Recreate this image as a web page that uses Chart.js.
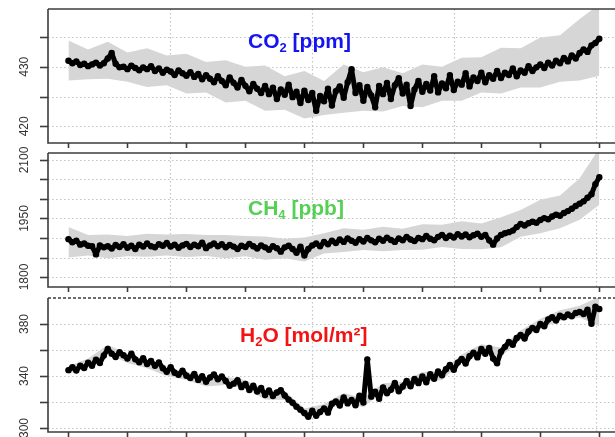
<!DOCTYPE html>
<html>
<head>
<meta charset="utf-8">
<script src="https://cdn.jsdelivr.net/npm/chart.js@4"></script>
<style>
  html, body { margin: 0; padding: 0; background: #fff; }
  #wrap { position: relative; width: 615px; height: 437px; overflow: hidden; }
  #wrap canvas { position: absolute; left: 0; top: 0; }
  .ttl { position: absolute; font: bold 21px "Liberation Sans", Arial, sans-serif; line-height: 21px; white-space: nowrap; }
  .ttl sub { font-size: 13px; vertical-align: -4px; line-height: 0; }
</style>
</head>
<body>
<div id="wrap">
  <canvas id="cCO2" width="640" height="460"></canvas>
  <canvas id="cCH4" width="640" height="460"></canvas>
  <canvas id="cH2O" width="640" height="460"></canvas>
  <div class="ttl" style="left:248px;top:30px;color:#1414f2;">CO<sub>2</sub> [ppm]</div>
  <div class="ttl" style="left:248px;top:197px;color:#55d055;">CH<sub>4</sub> [ppb]</div>
  <div class="ttl" style="left:240px;top:324px;color:#f21414;">H<sub>2</sub>O [mol/m²]</div>
</div>
<script>
// Sample index runs 0..135 along the shared time axis.
const xTicks = [0, 15, 30, 45, 60, 75, 90, 105, 120, 135];
const xGridLines = [25.9, 62.0, 98.1, 134.2];
const bandIdx = [0, 5, 10, 15, 20, 25, 30, 35, 40, 45, 50, 55, 60, 65, 70, 75, 80, 85, 90, 95, 100, 105, 110, 115, 120, 125, 130, 135];

// CO2 column [ppm]
const co2Values = [
  431.0, 430.6, 430.9, 430.3, 430.5, 430.1, 430.4, 430.7, 430.2, 430.6,
  431.4, 432.3, 430.5, 429.9, 430.0, 429.6, 430.2, 429.8, 429.4, 429.9,
  429.6, 430.1, 429.3, 429.7, 429.0, 429.5, 429.2, 428.6, 429.4, 428.9,
  428.5, 429.1, 428.3, 428.8, 427.9, 428.6, 428.0, 427.4, 428.4, 427.6,
  426.9, 428.2, 427.3, 426.5, 427.8, 426.8, 425.9, 427.1, 426.3, 425.6,
  426.8, 425.4, 426.5, 424.6, 426.2, 425.3, 427.0, 424.9, 425.8, 423.9,
  426.0, 424.4, 425.6, 422.6, 425.1, 424.2, 426.3, 423.5, 425.9, 426.7,
  424.8, 427.4, 429.6, 425.6, 426.9, 424.3, 426.6, 425.2, 423.2, 426.8,
  425.4, 427.3, 424.6, 426.9, 428.1, 425.5, 427.0, 423.4, 426.2, 427.6,
  425.8, 427.1, 426.0, 428.4, 425.7, 427.2, 426.4, 428.6, 426.1, 427.5,
  427.0, 428.9, 426.7, 428.2, 427.6, 429.0, 427.4, 428.6, 428.0, 429.3,
  428.1, 429.0, 428.6, 429.7, 428.4, 429.4, 429.0, 430.1, 429.3, 429.9,
  430.4, 429.8, 430.7, 430.2, 431.0, 430.6, 431.5, 430.9, 431.9, 431.4,
  432.3, 432.9, 432.5, 433.6, 434.0, 434.7
];
const co2Upper = [434.4, 432.9, 434.2, 432.4, 433.1, 431.9, 432.2, 430.8, 431.1, 430.0, 430.2, 428.4, 429.3, 427.6, 430.4, 429.1, 429.9, 428.9, 430.4, 430.0, 431.5, 431.6, 433.2, 433.1, 434.9, 435.3, 438.0, 440.5];
const co2Lower = [427.7, 427.9, 428.0, 427.5, 426.6, 426.9, 425.5, 425.7, 424.0, 424.3, 422.6, 422.8, 421.3, 421.9, 422.3, 422.6, 422.5, 423.4, 423.2, 424.3, 424.3, 425.7, 425.5, 426.5, 426.5, 427.5, 427.7, 428.5];
const co2Ticks = [420, 425, 430, 435];
const co2Labels = [420, 430];

// CH4 column [ppb]
const ch4Values = [
  1897, 1889, 1893, 1883, 1886, 1880, 1879, 1858, 1881, 1876,
  1879, 1873, 1882, 1877, 1884, 1875, 1880, 1872, 1883, 1878,
  1886, 1879, 1876, 1884, 1880, 1887, 1878, 1883, 1875, 1881,
  1885, 1877, 1883, 1879, 1888, 1874, 1881, 1886, 1879, 1884,
  1876, 1882, 1878, 1872, 1880, 1877, 1885, 1879, 1873, 1881,
  1876, 1870, 1879, 1874, 1865, 1876, 1880, 1872, 1862, 1878,
  1855, 1872, 1881, 1886, 1879, 1890, 1884, 1893, 1887, 1896,
  1890, 1899, 1893, 1888, 1897, 1891, 1900, 1894, 1889, 1898,
  1893, 1901, 1895, 1890, 1899, 1894, 1903, 1896, 1892, 1900,
  1897, 1905, 1898, 1894, 1903, 1908, 1900, 1906, 1901, 1910,
  1904, 1909, 1902, 1907, 1911, 1903, 1908, 1894, 1883, 1899,
  1908, 1912, 1915, 1919, 1928, 1936, 1932, 1938, 1942, 1939,
  1946, 1951, 1948, 1955, 1960, 1957, 1964, 1969, 1975, 1982,
  1988, 1994, 2003, 2012, 2038, 2056
];
const ch4Upper = [1928, 1908, 1909, 1905, 1911, 1909, 1910, 1908, 1908, 1905, 1904, 1898, 1901, 1912, 1925, 1921, 1929, 1924, 1935, 1934, 1943, 1937, 1953, 1972, 1998, 2009, 2053, 2130];
const ch4Lower = [1850, 1855, 1848, 1853, 1852, 1855, 1851, 1854, 1848, 1853, 1844, 1848, 1840, 1860, 1864, 1869, 1866, 1869, 1870, 1877, 1872, 1871, 1876, 1903, 1912, 1925, 1947, 1985];
const ch4Ticks = [1800, 1850, 1900, 1950, 2000, 2050, 2100];
const ch4Labels = [1800, 1950, 2100];

// H2O column [mol/m²]
const h2oValues = [
  344.5, 346.8, 344.2, 348.0, 346.1, 350.3, 347.9, 352.5, 350.0, 355.8,
  360.8, 357.2, 354.6, 358.3, 356.0, 353.4, 357.1, 352.8, 350.5, 353.6,
  349.2, 351.5, 347.8, 350.4, 346.0, 343.2, 346.8, 342.5, 340.9, 344.1,
  340.2, 338.4, 341.6, 337.0, 339.8, 335.6, 338.9, 341.2, 337.5, 339.6,
  336.2, 332.5, 334.1, 336.8, 331.4, 333.9, 329.2, 332.6, 328.0, 330.7,
  325.4, 328.9, 324.6, 327.3, 329.1, 325.0, 321.8, 319.5, 316.4, 314.1,
  311.5, 308.6, 313.2, 309.4, 312.3, 315.1, 311.8, 318.6, 320.4, 317.2,
  323.5, 318.9, 321.6, 317.4, 324.8, 319.6, 352.8, 324.1, 327.9, 322.4,
  331.2, 326.7, 329.4, 334.6, 328.3, 331.9, 336.2, 332.1, 337.8, 334.5,
  339.6, 335.2, 341.3, 337.9, 343.5, 340.6, 345.2, 348.4, 344.7, 350.3,
  353.1, 349.6, 355.2, 357.9, 354.3, 360.8, 357.1, 361.5, 353.4, 349.8,
  358.6, 362.4, 366.1, 364.0, 369.3, 371.5, 368.8, 374.2, 377.0, 375.4,
  380.1, 378.3, 383.5, 385.2, 382.6, 386.4, 385.1, 387.3, 386.0, 388.5,
  389.2, 387.6, 391.0, 380.2, 393.4, 391.5
];
const h2oUpper = [347.5, 353.5, 364.0, 357.0, 352.5, 346.5, 343.5, 339.0, 339.5, 337.0, 329.0, 328.5, 315.0, 318.5, 327.0, 323.0, 334.5, 335.5, 343.0, 344.0, 356.5, 364.5, 362.0, 375.0, 384.0, 390.5, 394.0, 401.0];
const h2oLower = [341.5, 347.0, 357.5, 350.0, 346.0, 340.0, 337.0, 332.0, 333.0, 330.5, 322.0, 321.5, 308.0, 312.0, 320.0, 316.0, 328.0, 328.5, 336.0, 337.0, 350.0, 357.5, 355.0, 368.0, 376.5, 382.5, 385.0, 378.0];
const h2oTicks = [300, 320, 340, 360, 380];
const h2oLabels = [300, 340, 380];

// Box, dotted grid, tick marks and rotated y labels
const framePlugin = {
  id: 'frame',
  beforeDatasetsDraw(chart, args, o) {
    const { ctx, chartArea: a, scales: { x, y } } = chart;
    ctx.save();
    ctx.strokeStyle = '#c4c4c4';
    ctx.lineWidth = 1.2;
    ctx.setLineDash([1.5, 2.5]);
    for (const t of o.yTicks) {
      const py = Math.round(y.getPixelForValue(t)) + 0.5;
      ctx.beginPath(); ctx.moveTo(a.left, py); ctx.lineTo(a.right, py); ctx.stroke();
    }
    for (const g of xGridLines) {
      const px = Math.round(x.getPixelForValue(g)) + 0.5;
      ctx.beginPath(); ctx.moveTo(px, a.top); ctx.lineTo(px, a.bottom); ctx.stroke();
    }
    ctx.restore();
  },
  afterDatasetsDraw(chart, args, o) {
    const { ctx, chartArea: a, scales: { x, y } } = chart;
    ctx.save();
    ctx.strokeStyle = '#3c3c3c';
    ctx.lineWidth = 1.6;
    ctx.beginPath();
    ctx.moveTo(a.left, a.top); ctx.lineTo(a.left, a.bottom); ctx.lineTo(a.right, a.bottom);
    ctx.stroke();
    if (o.dashedTop) ctx.setLineDash([3, 2]);
    ctx.beginPath(); ctx.moveTo(a.left, a.top); ctx.lineTo(a.right, a.top); ctx.stroke();
    ctx.setLineDash([]);
    for (const t of o.yTicks) {
      const py = Math.round(y.getPixelForValue(t)) + 0.5;
      ctx.beginPath(); ctx.moveTo(a.left - 8, py); ctx.lineTo(a.left, py); ctx.stroke();
    }
    for (const t of xTicks) {
      const px = Math.round(x.getPixelForValue(t)) + 0.5;
      ctx.beginPath(); ctx.moveTo(px, a.bottom); ctx.lineTo(px, a.bottom + 5); ctx.stroke();
    }
    ctx.fillStyle = '#333';
    ctx.font = '12px "Liberation Sans", Arial, sans-serif';
    ctx.textAlign = 'center';
    ctx.textBaseline = 'middle';
    for (const t of o.yLabels) {
      const py = y.getPixelForValue(t);
      ctx.save();
      ctx.translate(25, py);
      ctx.rotate(-Math.PI / 2);
      ctx.fillText(String(t), 0, 0);
      ctx.restore();
    }
    ctx.restore();
  }
};

function toPoints(vals) { return vals.map((v, i) => ({ x: i, y: v })); }
function toBand(vals) { return vals.map((v, k) => ({ x: bandIdx[k], y: v })); }

function makePanel(id, vals, upper, lower, yMin, yMax, ticks, labels, padTop, padBottom, dashedTop) {
  return new Chart(document.getElementById(id), {
    type: 'scatter',
    data: {
      datasets: [
        { data: toPoints(vals), showLine: true, borderColor: '#000', borderWidth: 5,
          borderJoinStyle: 'round', borderCapStyle: 'round',
          pointRadius: 3.2, pointBackgroundColor: '#000', pointBorderWidth: 0, tension: 0 },
        { data: toBand(upper), showLine: true, fill: '+1', backgroundColor: '#d6d6d6',
          borderColor: 'transparent', borderWidth: 0, pointRadius: 0 },
        { data: toBand(lower), showLine: true, fill: false,
          borderColor: 'transparent', borderWidth: 0, pointRadius: 0 }
      ]
    },
    options: {
      responsive: false,
      animation: false,
      devicePixelRatio: 1,
      layout: { padding: { top: padTop, bottom: padBottom, left: 0, right: 0 } },
      plugins: {
        legend: { display: false },
        tooltip: { enabled: false },
        frame: { yTicks: ticks, yLabels: labels, dashedTop: dashedTop }
      },
      scales: {
        x: { type: 'linear', min: -5.2, max: 144.33, display: false },
        y: {
          type: 'linear', min: yMin, max: yMax,
          grid: { display: false }, border: { display: false },
          ticks: { display: false },
          afterFit(s) { s.width = 48; }
        }
      }
    },
    plugins: [framePlugin]
  });
}

makePanel('cCO2', co2Values, co2Upper, co2Lower, 417.2, 439.7, co2Ticks, co2Labels, 9, 317, false);
makePanel('cCH4', ch4Values, ch4Upper, ch4Lower, 1774.4, 2117.9, ch4Ticks, ch4Labels, 153, 173, false);
makePanel('cH2O', h2oValues, h2oUpper, h2oLower, 296.9, 400.0, h2oTicks, h2oLabels, 298, 28, true);
</script>
</body>
</html>
